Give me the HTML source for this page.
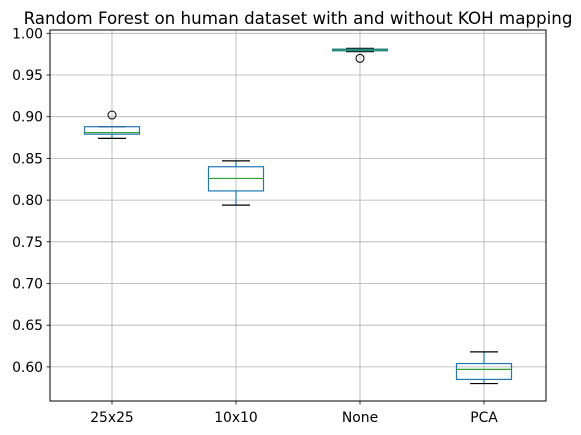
<!DOCTYPE html>
<html><head><meta charset="utf-8"><style>body{margin:0;background:#fff}svg{display:block;font-family:"DejaVu Sans","Liberation Sans",sans-serif}</style></head>
<body>
<svg id="chart" width="581" height="435" viewBox="0 0 581 435"></svg>
<script>
const categories = ["25x25","10x10","None","PCA"];
const whiskerLow = [0.874,0.794,0.978,0.580];
const q1 = [0.879,0.811,0.979,0.585];
const medians = [0.881,0.826,0.980,0.597];
const q3 = [0.888,0.840,0.981,0.604];
const whiskerHigh = [0.888,0.847,0.982,0.618];
const outliers = [[0.902],[],[0.970],[]];
const yTicks = [0.60,0.65,0.70,0.75,0.80,0.85,0.90,0.95,1.00];

const svg = document.getElementById('chart');
const NS = 'http://www.w3.org/2000/svg';
const L=50,R=546,T=30,B=401;
const y = v => 33.3 + (1.0 - v)/0.05*41.7;
const x = i => L + (R-L)/categories.length*(i+0.5);
function mk(tag, attrs, parent){const e=document.createElementNS(NS,tag);for(const k in attrs)e.setAttribute(k,attrs[k]);(parent||svg).appendChild(e);return e;}

const grid = mk('g',{});


yTicks.forEach(t=>{
  mk('line',{x1:L,x2:R,y1:y(t),y2:y(t),stroke:'#b0b0b0','stroke-width':0.8},grid);
  mk('line',{x1:L-3.5,x2:L,y1:y(t),y2:y(t),stroke:'#000','stroke-width':0.8});
  const tx=mk('text',{x:L-7,y:y(t)+5,'text-anchor':'end','font-size':13.9,fill:'#000'});
  tx.textContent=t.toFixed(2);
  
  
});
categories.forEach((c,i)=>{
  mk('line',{x1:x(i),x2:x(i),y1:T,y2:B,stroke:'#b0b0b0','stroke-width':0.8},grid);
  mk('line',{x1:x(i),x2:x(i),y1:B,y2:B+3.5,stroke:'#000','stroke-width':0.8});
  const tx=mk('text',{x:x(i),y:B+21,'text-anchor':'middle','font-size':13.9,fill:'#000'});
  tx.textContent=c;
  
  
});
categories.forEach((c,i)=>{
  const g=mk('g',{});
  
  
  const cx=x(i), hw=27.5, cw=14;
  mk('line',{x1:cx,x2:cx,y1:y(q3[i]),y2:y(whiskerHigh[i]),stroke:'#1f77b4','stroke-width':1.2},g);
  mk('line',{x1:cx,x2:cx,y1:y(q1[i]),y2:y(whiskerLow[i]),stroke:'#1f77b4','stroke-width':1.2},g);
  mk('line',{x1:cx-cw,x2:cx+cw,y1:y(whiskerHigh[i]),y2:y(whiskerHigh[i]),stroke:'#000','stroke-width':1.2},g);
  mk('line',{x1:cx-cw,x2:cx+cw,y1:y(whiskerLow[i]),y2:y(whiskerLow[i]),stroke:'#000','stroke-width':1.2},g);
  mk('rect',{x:cx-hw,y:y(q3[i]),width:2*hw,height:Math.max(0.5,y(q1[i])-y(q3[i])),fill:'none',stroke:'#1f77b4','stroke-width':1.2},g);
  mk('line',{x1:cx-hw,x2:cx+hw,y1:y(medians[i]),y2:y(medians[i]),stroke:'#2ca02c','stroke-width':1.2},g);
  outliers[i].forEach(o=>mk('circle',{cx:cx,cy:y(o),r:4,fill:'none',stroke:'#000','stroke-width':1},g));
});
mk('rect',{x:L,y:T,width:R-L,height:B-T,fill:'none',stroke:'#000','stroke-width':1});
const title=mk('text',{x:(L+R)/2,y:24,'text-anchor':'middle','font-size':16.7,fill:'#000'});
title.textContent='Random Forest on human dataset with and without KOH mapping';


</script>
</body></html>
